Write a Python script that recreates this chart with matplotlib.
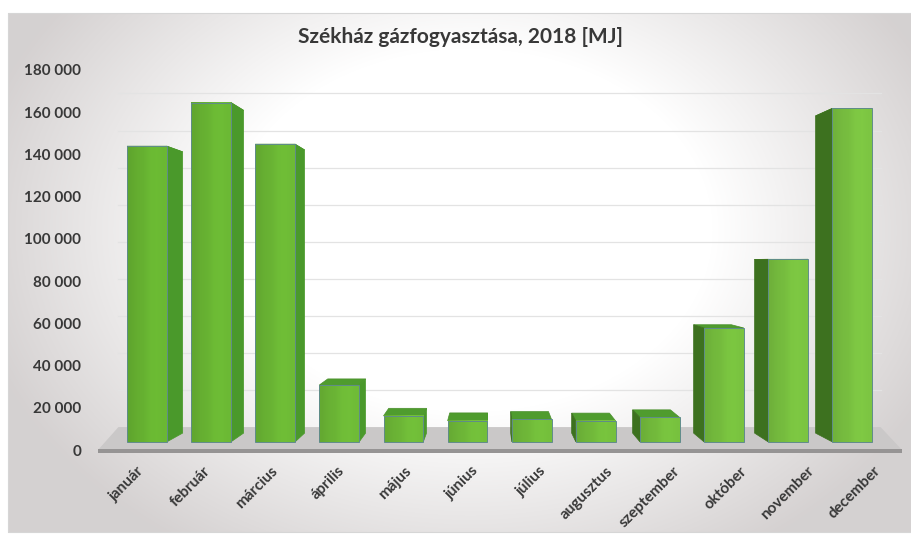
import numpy as np
import matplotlib.pyplot as plt
from matplotlib.patches import Polygon, Rectangle
from matplotlib.colors import to_rgb

# monthly gas consumption of the headquarters, 2018 [MJ]
months = ['január', 'február', 'március', 'április', 'május', 'június',
          'július', 'augusztus', 'szeptember', 'október', 'november', 'december']
gas_mj = [146400, 168000, 147400, 28200, 12900, 10500,
          11200, 10400, 12100, 56400, 90400, 165100]
y_ticks = [0, 20000, 40000, 60000, 80000, 100000, 120000, 140000, 160000, 180000]

W, H = 911, 537
FONT = ['Lato', 'DejaVu Sans']
TEXT_COL = '#383838'

# pseudo 3d: points move toward a vanishing point as depth grows
VX, VY = 5.35, 89000
D_FRONT, D_BACK = 0.043, 0.090   # bar front / back depth
D_FLOOR_X, D_FLOOR_Y = 0.052, 0.122
BAR_W = 0.62


def project(x, y, dx, dy=None):
    if dy is None:
        dy = dx
    return x + dx * (VX - x), y + dy * (VY - y)


fig = plt.figure(figsize=(W / 100, H / 100), dpi=100)

# background with soft grey edges
bg = fig.add_axes([0, 0, 1, 1], zorder=-1)
bg.set_xlim(0, W)
bg.set_ylim(H, 0)
bg.axis('off')
xx, yy = np.meshgrid(np.arange(W), np.arange(H))
r = np.sqrt(((xx - 470) / 440) ** 2 + ((yy - 230) / 330) ** 2)
shade = np.clip((r - 0.55) / 0.6, 0, 1)
img = np.ones((H, W, 3))
img[..., 0] = 1 - 0.165 * shade
img[..., 1] = 1 - 0.18 * shade
img[..., 2] = 1 - 0.18 * shade
outside = (xx < 8) | (yy < 13) | (yy > 532)
img[outside] = 1
bg.imshow(img, extent=(0, W, H, 0), aspect='auto', interpolation='bilinear')
bg.add_patch(Rectangle((8, 13), W - 8, 519, fill=False, ec='#d6d6d6', lw=0.8))

ax = fig.add_axes([98 / W, 1 - 450 / H, 804 / W, 380 / H])
ax.patch.set_alpha(0)
xs = np.arange(len(months))

# back wall gridlines
x0b, _ = project(-0.5, 0, D_FLOOR_X)
x1b, _ = project(11.5, 0, D_FLOOR_X)
for v in y_ticks[1:]:
    _, yb = project(0, v, D_FLOOR_X, D_FLOOR_Y)
    ax.plot([x0b, x1b], [yb, yb], color='#e3e3e3', lw=0.9, zorder=1)

# floor
_, yfb = project(0, 0, D_FLOOR_X, D_FLOOR_Y)
floor = Polygon([(-0.5, 0), (11.5, 0), (x1b, yfb), (x0b, yfb)],
                closed=True, fc='#cac8c8', ec='none', zorder=2, clip_on=False)
ax.add_patch(floor)
ax.add_patch(Rectangle((-0.5, -1500), 12, 1900, fc='#969494', ec='none',
                       zorder=2, clip_on=False))

for i, v in zip(xs, gas_mj):
    xl, xr = i - BAR_W / 2, i + BAR_W / 2
    fl, fb = project(xl, 0, D_FRONT)
    fr, ft = project(xr, v, D_FRONT)
    bl, bb = project(xl, 0, D_BACK)
    br, bt = project(xr, v, D_BACK)

    # top face
    ax.add_patch(Polygon([(fl, ft), (fr, ft), (br, bt), (bl, bt)],
                         fc='#4f9c2e', ec='#4a8f2c', lw=0.5, zorder=3))
    # visible side face
    if i < VX:
        side = [(fr, fb), (fr, ft), (br, bt), (br, bb)]
        side_col = '#4a992b'
    else:
        side = [(fl, fb), (fl, ft), (bl, bt), (bl, bb)]
        side_col = '#3d711f'
    ax.add_patch(Polygon(side, fc=side_col, ec=side_col, lw=0.5, zorder=3))

    # front face with a soft horizontal shading
    t = i / (len(months) - 1)
    base = np.array(to_rgb('#66b131')) * (1 - t) + np.array(to_rgb('#78be40')) * t
    stops = np.array([0.94, 0.98, 1.0, 1.05, 1.06, 1.04])
    grad = np.clip(base[None, :] * stops[:, None], 0, 1)[None, :, :]
    ax.imshow(grad, extent=(fl, fr, fb, ft), aspect='auto',
              interpolation='bilinear', zorder=4)
    ax.add_patch(Rectangle((fl, fb), fr - fl, ft - fb, fill=False,
                           ec='#5f8c8a', lw=0.7, zorder=5))

    ax.annotate(months[i], (i, 0), xytext=(5, -14), textcoords='offset pixels',
                rotation=45, rotation_mode='anchor', ha='right', va='top',
                fontsize=11, fontweight='bold', color=TEXT_COL, family=FONT,
                annotation_clip=False)

ax.set_xlim(-0.5, 11.5)
ax.set_ylim(0, 180000)
ax.set_xticks([])
ax.set_yticks(y_ticks)
ax.set_yticklabels([f'{v:,}'.replace(',', ' ') for v in y_ticks],
                   fontsize=11, fontweight='bold', color=TEXT_COL, family=FONT)
ax.tick_params(axis='y', length=0, pad=12)
for s in ax.spines.values():
    s.set_visible(False)

fig.text(460 / W, 1 - 37 / H, 'Székház gázfogyasztása, 2018 [MJ]',
         ha='center', va='center', fontsize=15, fontweight='bold',
         color=TEXT_COL, family=FONT)

fig.savefig('out.png', dpi=100)
